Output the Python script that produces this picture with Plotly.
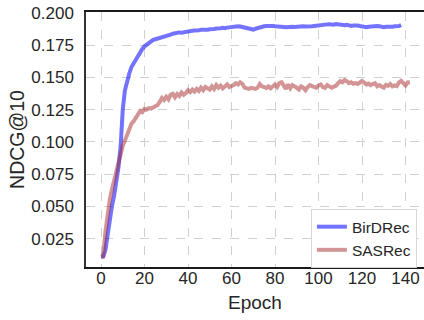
import plotly.graph_objects as go

birdrec = [
    0.0110, 0.0112, 0.0160, 0.0280, 0.0400, 0.0500, 0.0580, 0.0680, 0.0800, 0.0960,
    0.1250, 0.1400, 0.1480, 0.1530, 0.1580, 0.1610, 0.1640, 0.1670, 0.1695, 0.1720,
    0.1740, 0.1755, 0.1770, 0.1785, 0.1790, 0.1795, 0.1800, 0.1805, 0.1810, 0.1808,
    0.1815, 0.1822, 0.1830, 0.1838, 0.1842, 0.1845, 0.1848, 0.1846, 0.1850, 0.1855,
    0.1858, 0.1856, 0.1860, 0.1862, 0.1860, 0.1865, 0.1868, 0.1866, 0.1870, 0.1868,
    0.1872, 0.1870, 0.1875, 0.1878, 0.1876, 0.1880, 0.1883, 0.1880, 0.1885, 0.1888,
    0.1886, 0.1890, 0.1893, 0.1896, 0.1894, 0.1890, 0.1888, 0.1882, 0.1876, 0.1872,
    0.1870, 0.1876, 0.1882, 0.1888, 0.1893, 0.1895, 0.1897, 0.1900, 0.1902, 0.1898,
    0.1895, 0.1892, 0.1890, 0.1893, 0.1890, 0.1888, 0.1891, 0.1889, 0.1892, 0.1890,
    0.1893, 0.1890, 0.1892, 0.1895, 0.1893, 0.1896, 0.1898, 0.1895, 0.1897, 0.1900,
    0.1903, 0.1905, 0.1902, 0.1906, 0.1908, 0.1912, 0.1910, 0.1907, 0.1912, 0.1909,
    0.1905, 0.1908, 0.1903, 0.1906, 0.1902, 0.1898, 0.1902, 0.1905, 0.1901, 0.1897,
    0.1893, 0.1890, 0.1888, 0.1892, 0.1895, 0.1897, 0.1894, 0.1898, 0.1895, 0.1891,
    0.1888, 0.1892, 0.1890, 0.1887, 0.1892, 0.1895, 0.1893, 0.1897, 0.1905,
]

sasrec = [
    0.0110, 0.0115, 0.0300, 0.0450, 0.0550, 0.0630, 0.0700, 0.0770, 0.0850, 0.0920,
    0.0970, 0.1010, 0.1060, 0.1110, 0.1140, 0.1160, 0.1190, 0.1220, 0.1240, 0.1230,
    0.1255, 0.1250, 0.1262, 0.1258, 0.1270, 0.1280, 0.1285, 0.1310, 0.1340, 0.1325,
    0.1350, 0.1330, 0.1365, 0.1372, 0.1345, 0.1370, 0.1355, 0.1382, 0.1365, 0.1378,
    0.1400, 0.1385, 0.1405, 0.1390, 0.1410, 0.1395, 0.1420, 0.1400, 0.1425, 0.1415,
    0.1405, 0.1430, 0.1410, 0.1440, 0.1420, 0.1435, 0.1415, 0.1430, 0.1445, 0.1425,
    0.1432, 0.1440, 0.1455, 0.1445, 0.1462, 0.1450, 0.1420, 0.1415, 0.1410, 0.1418,
    0.1412, 0.1410, 0.1420, 0.1448, 0.1430, 0.1425, 0.1418, 0.1430, 0.1415, 0.1430,
    0.1445, 0.1425, 0.1455, 0.1462, 0.1430, 0.1410, 0.1445, 0.1415, 0.1440, 0.1432,
    0.1420, 0.1405, 0.1430, 0.1420, 0.1400, 0.1425, 0.1440, 0.1432, 0.1428, 0.1420,
    0.1438, 0.1445, 0.1425, 0.1418, 0.1440, 0.1430, 0.1420, 0.1428, 0.1435, 0.1455,
    0.1470, 0.1462, 0.1478, 0.1470, 0.1455, 0.1462, 0.1450, 0.1455, 0.1448, 0.1460,
    0.1472, 0.1460, 0.1445, 0.1452, 0.1440, 0.1448, 0.1455, 0.1430, 0.1440, 0.1428,
    0.1420, 0.1442, 0.1435, 0.1448, 0.1430, 0.1438, 0.1432, 0.1460, 0.1472, 0.1455,
    0.1438, 0.1460, 0.1462,
]

x_ticks = [0, 20, 40, 60, 80, 100, 120, 140]
y_ticks = [0.025, 0.050, 0.075, 0.100, 0.125, 0.150, 0.175, 0.200]
y_tick_labels = ["0.025", "0.050", "0.075", "0.100", "0.125", "0.150", "0.175", "0.200"]

FONT = "Liberation Sans, Arial, sans-serif"
TXT = "#262626"

fig = go.Figure()
fig.add_trace(go.Scatter(
    x=list(range(len(birdrec))), y=birdrec, mode="lines", name="BirDRec",
    line=dict(color="rgba(0,0,255,0.55)", width=4),
))
fig.add_trace(go.Scatter(
    x=list(range(len(sasrec))), y=sasrec, mode="lines", name="SASRec",
    line=dict(color="rgba(165,42,42,0.5)", width=4),
))

fig.update_layout(
    width=424, height=320,
    margin=dict(l=86, r=0, t=12, b=53, autoexpand=False),
    paper_bgcolor="white", plot_bgcolor="white",
    font=dict(family=FONT, color=TXT, size=16),
    legend=dict(
        x=0.979, y=0.227, xanchor="right", yanchor="top",
        bgcolor="white", bordercolor="#d8d8d8", borderwidth=1,
        font=dict(size=15.5, color=TXT, family=FONT),
        itemwidth=30, tracegroupgap=0,
    ),
    showlegend=True,
)
fig.update_xaxes(
    range=[-6.9, 148.5], automargin=False,
    tickvals=x_ticks, ticks="", ticklen=0, ticklabelstandoff=-5,
    showgrid=True, gridcolor="#d0d0d0", griddash="dash", gridwidth=1,
    showline=True, linecolor="#1a1a1a", linewidth=2, mirror=True,
    zeroline=False,
    title=dict(text="Epoch", font=dict(size=19, color=TXT, family=FONT), standoff=8),
    tickfont=dict(size=17, color=TXT, family=FONT),
)
fig.update_yaxes(
    range=[0.0031, 0.2006], automargin=False,
    tickvals=y_ticks, ticktext=y_tick_labels, ticks="", ticklabelstandoff=7,
    showgrid=True, gridcolor="#d0d0d0", griddash="dash", gridwidth=1,
    showline=True, linecolor="#333333", linewidth=1.5,
    zeroline=False,
    title=dict(text="NDCG@10", font=dict(size=19.5, color=TXT, family=FONT), standoff=1),
    tickfont=dict(size=17, color=TXT, family=FONT),
)

fig.write_html(
    "out.html",
    config={"displayModeBar": False},
    post_script="document.body.style.margin='0';document.body.style.overflow='hidden';",
)
